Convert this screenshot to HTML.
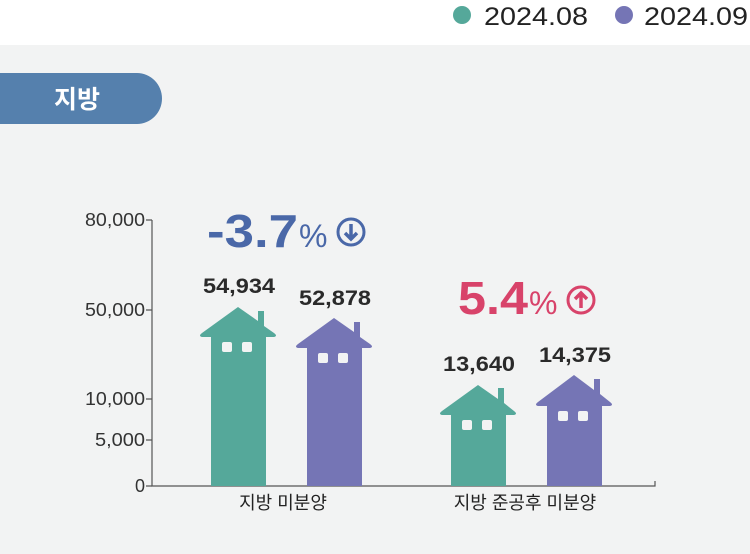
<!DOCTYPE html>
<html><head><meta charset="utf-8"><style>
body{margin:0;width:750px;height:554px;background:#fff;overflow:hidden}
svg{display:block}
text{font-family:"Liberation Sans","Noto Sans CJK KR",sans-serif}
</style></head><body>
<svg width="750" height="554" viewBox="0 0 750 554">
<rect x="0" y="45" width="750" height="509" fill="#f2f3f3"/>
<circle cx="462" cy="15" r="9" fill="#55a89a"/>
<text x="484" y="25" font-size="25" fill="#222" textLength="104" lengthAdjust="spacingAndGlyphs">2024.08</text>
<circle cx="624" cy="15" r="9" fill="#7575b5"/>
<text x="644" y="25" font-size="25" fill="#222" textLength="104" lengthAdjust="spacingAndGlyphs">2024.09</text>
<path d="M0 73 H137 A25 25.5 0 0 1 137 124 H0 Z" fill="#5580ad"/>
<text x="77" y="108" font-size="25" font-weight="bold" fill="#fff" text-anchor="middle" font-family="Noto Sans CJK KR,sans-serif">지방</text>
<g stroke="#555" stroke-width="1.2" fill="none">
<path d="M152 220 V486 H655 V481"/>
<path d="M146 220 H152 M146 310 H152 M146 399 H152 M146 440 H152 M146 486 H152"/>
</g>
<g font-size="18" fill="#333" text-anchor="end">
<text x="145" y="226" textLength="60" lengthAdjust="spacingAndGlyphs">80,000</text>
<text x="145" y="316" textLength="60" lengthAdjust="spacingAndGlyphs">50,000</text>
<text x="145" y="405" textLength="60" lengthAdjust="spacingAndGlyphs">10,000</text>
<text x="145" y="446" textLength="50" lengthAdjust="spacingAndGlyphs">5,000</text>
<text x="145" y="492">0</text>
</g>
<path fill="#55a89a" d="M211 486 V337 H202 Q198 336 202 333 L238 307 L258 321 V311 H264 V326 L274 333 Q278 336 274 337 H266 V486 Z"/>
<path fill="#7575b5" d="M307 486 V348 H298 Q294 347 298 344 L334 318 L354 332 V322 H360 V337 L370 344 Q374 347 370 348 H362 V486 Z"/>
<path fill="#55a89a" d="M451 486 V415 H442 Q438 414 442 411 L478 385 L498 399 V388 H504 V403 L514 411 Q518 414 514 415 H506 V486 Z"/>
<path fill="#7575b5" d="M547 486 V406 H538 Q534 405 538 402 L574 375 L594 390 V379 H600 V394 L610 402 Q614 405 610 406 H602 V486 Z"/>
<g fill="#f2f3f3">
<rect x="222" y="342" width="10" height="10" rx="2"/><rect x="242" y="342" width="10" height="10" rx="2"/>
<rect x="318" y="353" width="10" height="10" rx="2"/><rect x="338" y="353" width="10" height="10" rx="2"/>
<rect x="462" y="420" width="10" height="10" rx="2"/><rect x="482" y="420" width="10" height="10" rx="2"/>
<rect x="558" y="411" width="10" height="10" rx="2"/><rect x="578" y="411" width="10" height="10" rx="2"/>
</g>
<g font-size="21" font-weight="bold" fill="#2a2a2a">
<text x="203" y="293" textLength="72" lengthAdjust="spacingAndGlyphs">54,934</text>
<text x="299" y="305" textLength="72" lengthAdjust="spacingAndGlyphs">52,878</text>
<text x="443" y="371" textLength="72" lengthAdjust="spacingAndGlyphs">13,640</text>
<text x="539" y="362" textLength="72" lengthAdjust="spacingAndGlyphs">14,375</text>
</g>
<text x="207" y="247" font-size="46" font-weight="bold" fill="#4a68a8" textLength="91" lengthAdjust="spacingAndGlyphs">-3.7</text>
<text x="299" y="247" font-size="32" fill="#4a68a8">%</text>
<circle cx="351" cy="232" r="13" fill="none" stroke="#4a68a8" stroke-width="3"/>
<path d="M351 224 V238 M345 233 L351 239 L357 233" stroke="#4a68a8" stroke-width="3.5" fill="none"/>
<text x="458" y="314" font-size="46" font-weight="bold" fill="#d8436a" textLength="70" lengthAdjust="spacingAndGlyphs">5.4</text>
<text x="529" y="314" font-size="32" fill="#d8436a">%</text>
<circle cx="581" cy="300" r="13" fill="none" stroke="#d8436a" stroke-width="3"/>
<path d="M581 308 V294 M575 299 L581 293 L587 299" stroke="#d8436a" stroke-width="3.5" fill="none"/>
<g font-size="18" fill="#222" text-anchor="middle" font-family="Noto Sans CJK KR,sans-serif">
<text x="283" y="509">지방 미분양</text><text x="525" y="509">지방 준공후 미분양</text>
</g>
</svg>
</body></html>
